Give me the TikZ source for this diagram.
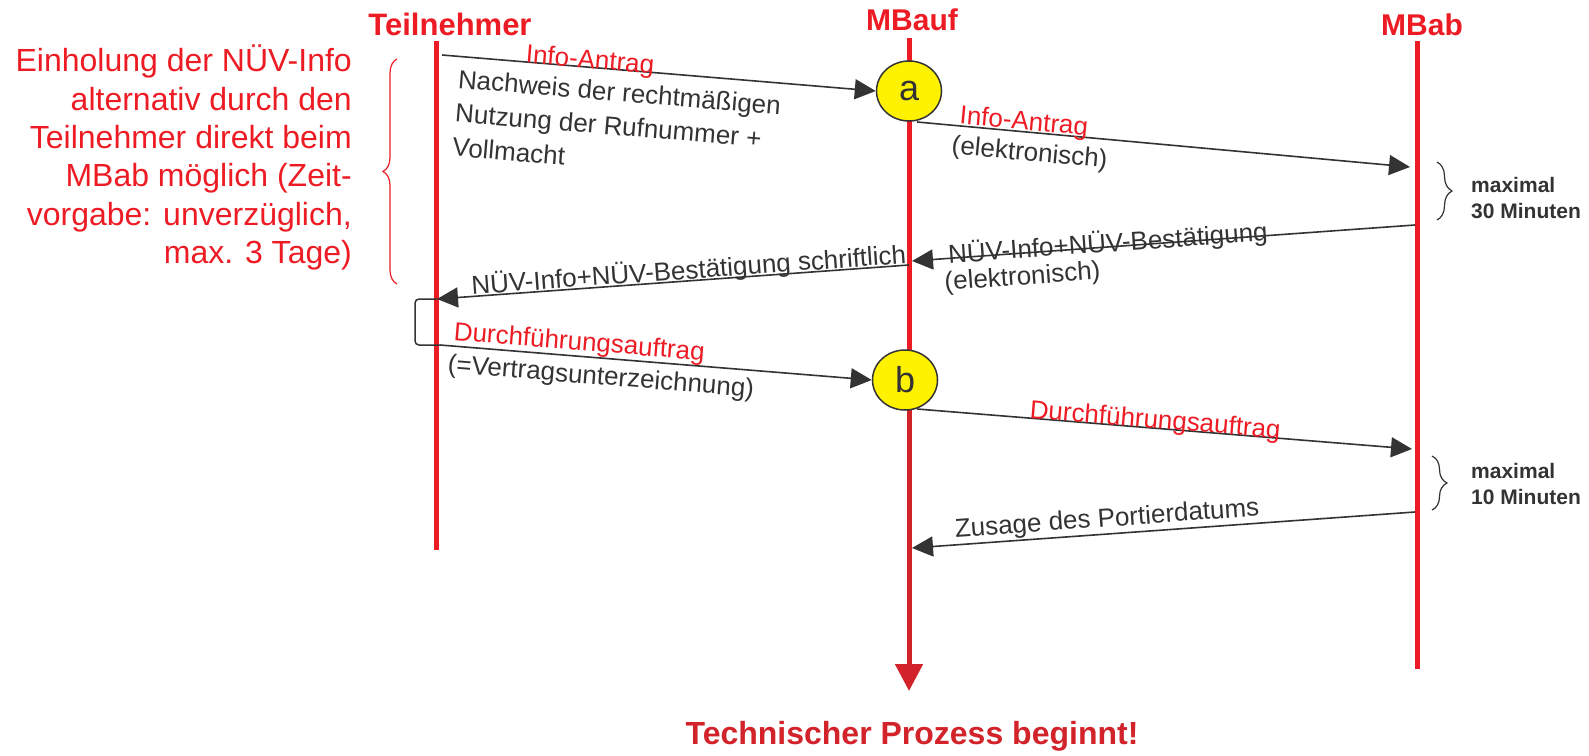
\documentclass[tikz,border=0pt]{standalone}
\usepackage{fontspec}
\setmainfont{Liberation Sans}
\usepackage{tikz}
\usetikzlibrary{arrows.meta}
\usetikzlibrary{shapes.geometric}
\usetikzlibrary{decorations.pathreplacing}
\definecolor{lred}{HTML}{ED1C24}
\definecolor{dred}{HTML}{D2232A}
\definecolor{dgray}{HTML}{333333}
\definecolor{kyellow}{HTML}{FFF200}

\begin{document}
\begin{tikzpicture}[x=1pt,y=-1pt,
    lifeline/.style={lred, line width=5pt},
    msg/.style={dgray, line width=1.6pt, -{Triangle[length=21pt,width=20pt]}},
    msgback/.style={dgray, line width=1.6pt, {Triangle[length=21pt,width=20pt]}-},
    station/.style={ellipse, draw=dgray, line width=1.5pt, fill=kyellow, minimum width=65pt, minimum height=60pt, inner sep=0pt, text=dgray, font=\fontsize{36}{36}\selectfont},
    party/.style={text=lred, font=\fontsize{30}{30}\selectfont\bfseries, inner sep=0pt, anchor=base},
    lbl/.style={text=dgray, font=\fontsize{26}{34}\selectfont, inner sep=0pt},
    rlbl/.style={text=lred, font=\fontsize{26}{33}\selectfont, inner sep=0pt},
    note/.style={text=dgray, font=\fontsize{21}{26}\selectfont\bfseries, inner sep=0pt, align=left, anchor=west},
    tbrace/.style={dgray, line width=1.2pt, decorate, decoration={brace, amplitude=15pt}}]
    \useasboundingbox (0,0) rectangle (1589,755);
    % parties
    \node[party, font=\fontsize{31}{31}\selectfont\bfseries] (tn) at (450,35) {Teilnehmer};
    \node[party] (auf) at (912,30) {MBauf};
    \node[party] (ab) at (1422,35) {MBab};
    \coordinate (tn-top) at (436,41);
    \coordinate (tn-bot) at (436,550);
    \coordinate (auf-top) at (909,38);
    \coordinate (auf-bot) at (909,691);
    \coordinate (ab-top) at (1417,41);
    \coordinate (ab-bot) at (1417,669);
    % lifelines
    \draw[lifeline] (tn-top) -- (tn-bot);
    \draw[lifeline] (ab-top) -- (ab-bot);
    \draw[lifeline] (auf-top) -- (909,400);
    \draw[dred, line width=5pt, -{Triangle[length=27pt,width=27pt]}] (909,400) -- (auf-bot);
    \node[station] (a) at (909,91) {a};
    \node[station] (b) at (905,380) {b};
    % note on the left
    \node[text=lred, font=\fontsize{32}{38.3}\selectfont, align=right, anchor=north east, inner sep=0pt] (hint) at (352,45)
        {Einholung der NÜV-Info\\alternativ durch den\\Teilnehmer direkt beim\\MBab möglich (Zeit-\\vorgabe: unverzüglich,\\max. 3 Tage)};
    \draw[lred, line width=1.2pt, decorate, decoration={brace, amplitude=14pt}] (397,284) -- (397,59);
    % messages
    \coordinate (m1s) at (442,55);
    \coordinate (m2s) at (917,122);
    \coordinate (m2e) at (1410,167);
    \coordinate (m3s) at (1415,225);
    \coordinate (m3e) at (912,261);
    \coordinate (m4s) at (909,265);
    \coordinate (m4e) at (437,299);
    \coordinate (m5s) at (440,345);
    \coordinate (m6s) at (917,409);
    \coordinate (m6e) at (1412,449);
    \coordinate (m7s) at (1415,512);
    \coordinate (m7e) at (912,548);
    \draw[dgray, line width=1.5pt, rounded corners=4pt] (m4e) -- ++(-22pt,0) |- (m5s);
    \draw[msg] (m1s) -- (a.west)
        node[rlbl, pos=0.34, sloped, anchor=base, yshift=-1pt] {Info-Antrag}
        node[lbl, pos=0.04, sloped, anchor=north west, yshift=-12pt, align=left] {Nachweis der rechtmäßigen\\Nutzung der Rufnummer +\\Vollmacht};
    \draw[msg] (m2s) -- (m2e)
        node[rlbl, pos=0.215, sloped, anchor=base, yshift=2pt] {Info-Antrag}
        node[lbl, pos=0.073, sloped, anchor=north west, yshift=-9pt] {(elektronisch)};
    \draw[msgback] (m3e) -- (m3s)
        node[lbl, pos=0.39, sloped, anchor=base, yshift=-5pt] {NÜV-Info+NÜV-Bestätigung}
        node[lbl, pos=0.06, sloped, anchor=north west, yshift=-12pt] {(elektronisch)};
    \draw[msgback] (m4e) -- (m4s)
        node[lbl, pos=0.535, sloped, anchor=base, yshift=2pt] {NÜV-Info+NÜV-Bestätigung schriftlich};
    \draw[msg] (m5s) -- (b.west)
        node[rlbl, pos=0.32, sloped, anchor=base, yshift=6pt] {Durchführungsauftrag}
        node[lbl, pos=0.02, sloped, anchor=north west, yshift=-7pt] {(=Vertragsunterzeichnung)};
    \draw[msg] (m6s) -- (m6e)
        node[rlbl, pos=0.48, sloped, anchor=base, yshift=0pt] {Durchführungsauftrag};
    \draw[msgback] (m7e) -- (m7s)
        node[lbl, pos=0.39, sloped, anchor=south, yshift=1pt] {Zusage des Portierdatums};
    % time limits
    \draw[tbrace] (1437,162) -- (1437,220);
    \node[note] (w1) at (1471,198) {maximal\\30 Minuten};
    \draw[tbrace] (1432,456) -- (1432,510);
    \node[note] (w2) at (1471,484) {maximal\\10 Minuten};
    % result
    \node[text=dred, font=\fontsize{32}{32}\selectfont\bfseries, anchor=base, inner sep=0pt] (go) at (912,744) {Technischer Prozess beginnt!};
\end{tikzpicture}
\end{document}
